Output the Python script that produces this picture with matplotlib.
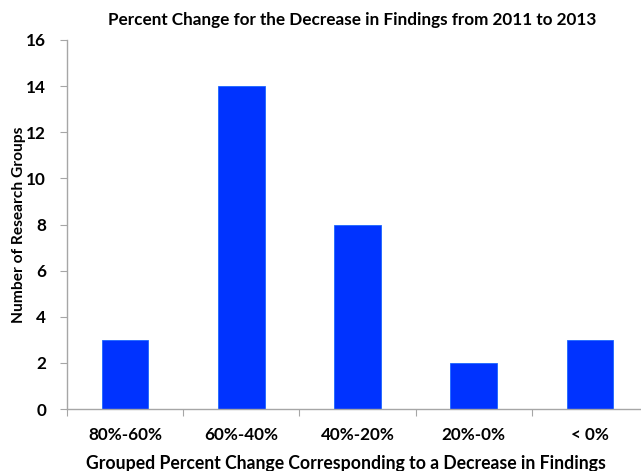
import matplotlib
matplotlib.use("Agg")
import matplotlib.pyplot as plt

categories = ["80%-60%", "60%-40%", "40%-20%", "20%-0%", "< 0%"]
counts = [3, 14, 8, 2, 3]
yticks = [0, 2, 4, 6, 8, 10, 12, 14, 16]

plt.rcParams["font.family"] = ["Lato", "DejaVu Sans"]
plt.rcParams["font.weight"] = "bold"

fig = plt.figure(figsize=(6.41, 4.71), dpi=100)
ax = fig.add_axes([67 / 641, 1 - 409 / 471, 1 - 67 / 641, (409 - 40) / 471])

x = list(range(len(categories)))
ax.bar(x, counts, width=0.4, color="#0033ff", edgecolor="#1a66ff", linewidth=0.6, zorder=2)

ax.set_xlim(-0.5, 4.44)
ax.set_ylim(0, 16)
ax.set_yticks(yticks)
ax.set_yticklabels([str(v) for v in yticks], fontsize=12.3, fontweight="bold")

# category labels sit between the boundary ticks
ax.set_xticks([i + 0.5 for i in range(len(categories) - 1)] + [-0.5])
ax.set_xticklabels([])
ax.set_xticks(x, minor=True)
ax.set_xticklabels(categories, minor=True, fontsize=12.3, fontweight="bold")
ax.tick_params(axis="x", which="minor", length=0, pad=13)
ax.tick_params(axis="x", which="major", length=5, color="#a6a6a6", direction="out")
ax.tick_params(axis="y", length=5, color="#a6a6a6", direction="out", pad=10)

for s in ["top", "right"]:
    ax.spines[s].set_visible(False)
for s in ["left", "bottom"]:
    ax.spines[s].set_color("#a6a6a6")
    ax.spines[s].set_linewidth(1.0)

fig.text(352 / 641, 1 - 20 / 471, "Percent Change for the Decrease in Findings from 2011 to 2013",
         ha="center", va="center", fontsize=12.3, fontweight="bold")
fig.text(19 / 641, 1 - 225 / 471, "Number of Research Groups", rotation=90,
         ha="center", va="center", fontsize=11.2, fontweight="bold")
fig.text(346 / 641, 1 - 463 / 471, "Grouped Percent Change Corresponding to a Decrease in Findings",
         ha="center", va="center", fontsize=12.7, fontweight="bold")

fig.savefig("out.png", dpi=100)
